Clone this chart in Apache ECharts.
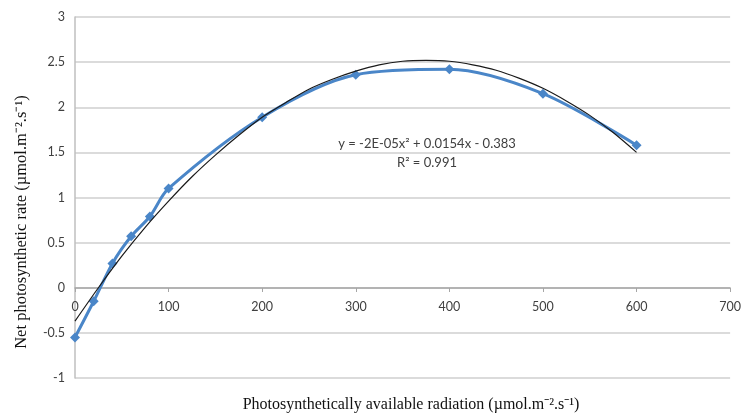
<!DOCTYPE html>
<html>
<head>
<meta charset="utf-8">
<script src="https://cdn.jsdelivr.net/npm/echarts@6/dist/echarts.min.js"></script>
<style>
  html, body { margin: 0; padding: 0; background: #fff; }
  #chart { width: 744px; height: 417px; }
</style>
</head>
<body>
<div id="chart"></div>
<script>
// measured points (PAR, net photosynthetic rate)
const parValues = [0, 20, 40, 60, 80, 100, 200, 300, 400, 500, 600];
const rateValues = [-0.55, -0.15, 0.27, 0.57, 0.79, 1.1, 1.89, 2.36, 2.42, 2.15, 1.58];

// polynomial trend line
const trendX = [0, 25, 50, 75, 100, 125, 150, 175, 200, 225, 250, 275, 300,
  325, 350, 375, 400, 425, 450, 475, 500, 525, 550, 575, 600];
const trendY = [-0.37, 0.0, 0.35, 0.67, 0.96, 1.23, 1.47, 1.69, 1.89, 2.05, 2.2, 2.31, 2.4,
  2.47, 2.51, 2.52, 2.51, 2.47, 2.41, 2.32, 2.21, 2.07, 1.91, 1.72, 1.5];

const eqText = 'y = -2E-05x² + 0.0154x - 0.383';
const r2Text = 'R² = 0.991';
const xTitle = 'Photosynthetically available radiation (µmol.m⁻².s⁻¹)';
const yTitle = 'Net photosynthetic rate (µmol.m⁻².s⁻¹)';

const chart = echarts.init(document.getElementById('chart'));

const tickFont = { fontFamily: 'Lato', fontSize: 12.5, color: '#404040' };
const serif = 'Liberation Serif';

chart.setOption({
  animation: false,
  grid: { left: 75, right: 11, top: 17, bottom: 39 },
  xAxis: {
    type: 'value',
    min: 0, max: 700, interval: 100,
    position: 'bottom',
    offset: -90, // axis sits on y = 0
    axisLine: { onZero: false, lineStyle: { color: '#a6a6a6', width: 1.5 } },
    axisTick: { show: true, length: 4, lineStyle: { color: '#a6a6a6' } },
    axisLabel: Object.assign({ margin: 12 }, tickFont),
    splitLine: { show: false }
  },
  yAxis: {
    type: 'value',
    min: -1, max: 3, interval: 0.5,
    axisLine: { show: true, lineStyle: { color: '#bfbfbf', width: 1.5 } },
    axisTick: { show: false },
    axisLabel: Object.assign({ margin: 10 }, tickFont),
    splitLine: { show: true, lineStyle: { color: '#cfcfcf', width: 1.5 } }
  },
  graphic: [
    {
      type: 'text', x: 411, y: 405,
      style: { text: xTitle, fontFamily: serif, fontSize: 16, fill: '#111',
        align: 'center', verticalAlign: 'middle' }
    },
    {
      type: 'text', x: 22, y: 222, rotation: Math.PI / 2,
      style: { text: yTitle, fontFamily: serif, fontSize: 16.5, fill: '#111',
        align: 'center', verticalAlign: 'middle' }
    },
    {
      type: 'text', x: 427, y: 144,
      style: { text: eqText, fontFamily: 'Lato', fontSize: 13, fill: '#404040',
        align: 'center', verticalAlign: 'middle' }
    },
    {
      type: 'text', x: 427, y: 163,
      style: { text: r2Text, fontFamily: 'Lato', fontSize: 13, fill: '#404040',
        align: 'center', verticalAlign: 'middle' }
    }
  ],
  series: [
    {
      name: 'trend',
      type: 'line',
      data: trendX.map((x, i) => [x, trendY[i]]),
      smooth: 0.3,
      showSymbol: false,
      lineStyle: { color: '#1a1a1a', width: 1.2 },
      z: 3
    },
    {
      name: 'rate',
      type: 'line',
      data: parValues.map((x, i) => [x, rateValues[i]]),
      smooth: 0.3,
      symbol: 'diamond',
      symbolSize: 10,
      lineStyle: { color: '#4a86c8', width: 3 },
      itemStyle: { color: '#4a86c8' },
      z: 2
    }
  ]
});
</script>
</body>
</html>
